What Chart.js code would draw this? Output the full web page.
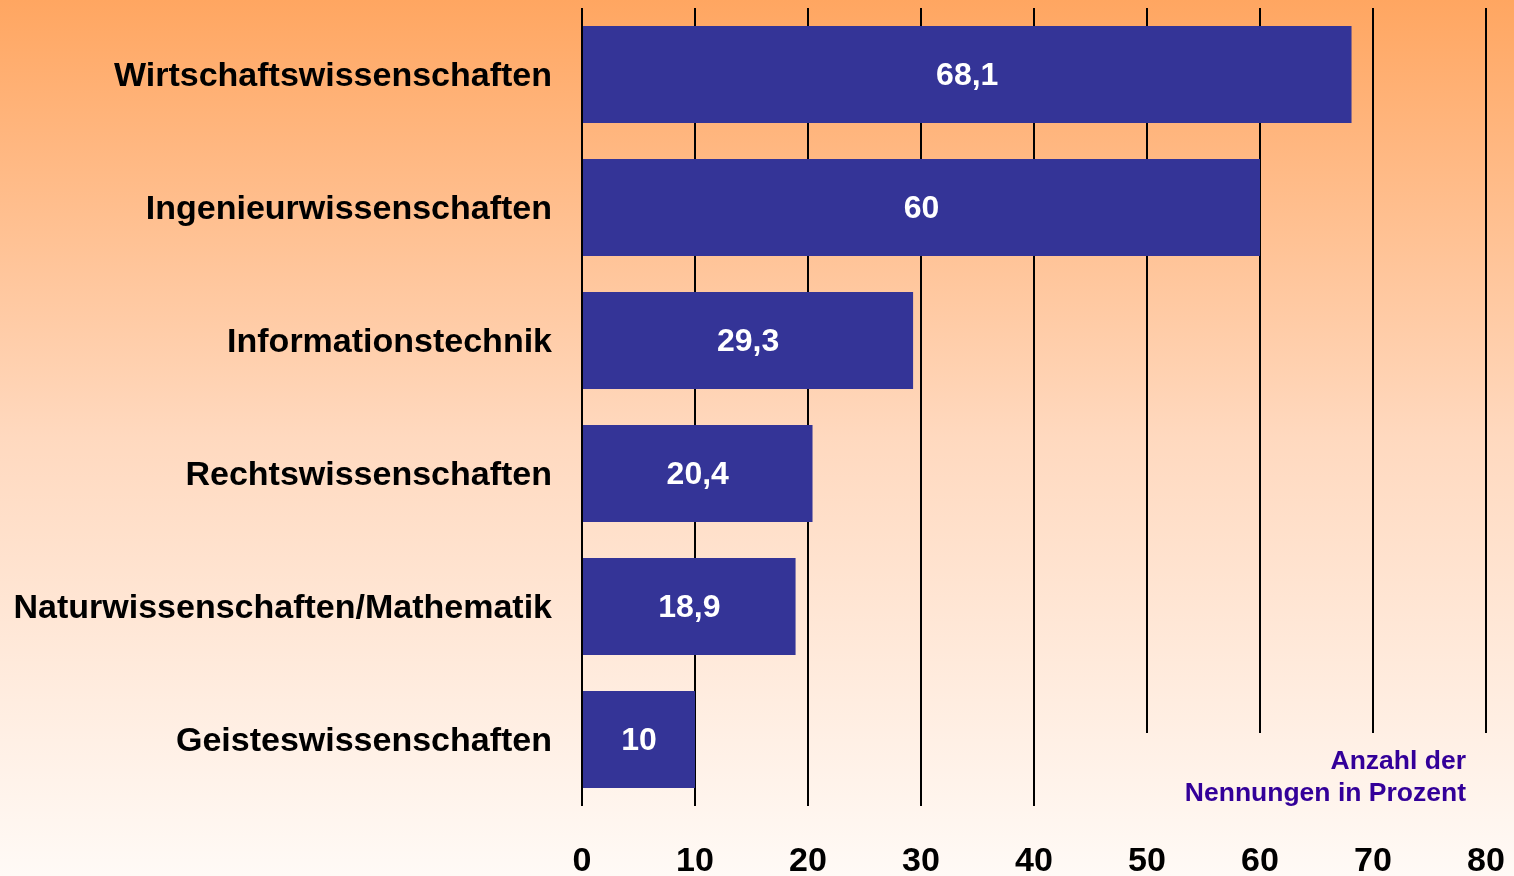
<!DOCTYPE html>
<html>
<head>
<meta charset="utf-8">
<script src="https://cdn.jsdelivr.net/npm/chart.js@4/dist/chart.umd.min.js"></script>
<style>
html,body{margin:0;padding:0;}
body{width:1514px;height:876px;overflow:hidden;}
#wrap{position:relative;width:1514px;height:876px;}
</style>
</head>
<body>
<div id="wrap"><canvas id="c" width="1514" height="876"></canvas></div>
<script>
const categories = ["Wirtschaftswissenschaften","Ingenieurwissenschaften","Informationstechnik","Rechtswissenschaften","Naturwissenschaften/Mathematik","Geisteswissenschaften"];
const values = [68.1, 60, 29.3, 20.4, 18.9, 10];
const valueLabels = ["68,1","60","29,3","20,4","18,9","10"];
const axisNote = ["Anzahl der","Nennungen in Prozent"];

const FONT = "'Liberation Sans', Arial, sans-serif";

function bgGradient(ctx, h){
  const g = ctx.createLinearGradient(0,0,0,h);
  g.addColorStop(0,'#FFA661');
  g.addColorStop(0.5,'#FFD9BF');
  g.addColorStop(1,'#FFFAF6');
  return g;
}

const bgPlugin = {
  id:'bg',
  beforeDraw(chart){
    const ctx = chart.ctx;
    ctx.save();
    ctx.fillStyle = bgGradient(ctx, chart.height);
    ctx.fillRect(0,0,chart.width,chart.height);
    ctx.restore();
  }
};

const overlayPlugin = {
  id:'overlay',
  afterDatasetsDraw(chart){
    const ctx = chart.ctx;
    const meta = chart.getDatasetMeta(0);
    const ca = chart.chartArea;
    const xs = chart.scales.x;
    ctx.save();
    ctx.fillStyle = bgGradient(ctx, chart.height);
    const x0 = xs.getPixelForValue(45);
    ctx.fillRect(x0, ca.bottom - 73, chart.width - x0, 80);
    ctx.restore();
    ctx.save();
    ctx.fillStyle = '#ffffff';
    ctx.font = "bold 32px " + FONT;
    ctx.textAlign = 'center';
    ctx.textBaseline = 'middle';
    meta.data.forEach((bar, i) => {
      const cx = (bar.base + bar.x) / 2;
      ctx.fillText(valueLabels[i], cx, bar.y + 1.5);
    });
    ctx.restore();
    ctx.save();
    ctx.fillStyle = '#330099';
    ctx.font = "bold 26.5px " + FONT;
    ctx.textAlign = 'right';
    ctx.textBaseline = 'middle';
    ctx.fillText(axisNote[0], 1466, 762);
    ctx.fillText(axisNote[1], 1466, 794);
    ctx.restore();
  }
};

new Chart(document.getElementById('c'), {
  type:'bar',
  data:{
    labels: categories,
    datasets:[{
      data: values,
      backgroundColor:'#343497',
      borderWidth:0,
      barPercentage:0.73,
      categoryPercentage:1
    }]
  },
  options:{
    indexAxis:'y',
    responsive:false,
    animation:false,
    devicePixelRatio:1,
    layout:{padding:{top:8,right:28,left:0,bottom:0}},
    plugins:{legend:{display:false},tooltip:{enabled:false}},
    scales:{
      x:{
        min:0,max:80,
        ticks:{stepSize:10,color:'#000',font:{family:FONT,size:34,weight:'bold'},padding:35,maxRotation:0},
        grid:{color:'#000',lineWidth:2,drawTicks:false},
        border:{display:false},
        afterFit(s){ s.height = 70; s.paddingLeft = 0; s.paddingRight = 0; s.paddingTop = 0; s.paddingBottom = 0; }
      },
      y:{
        ticks:{color:'#000',font:{family:FONT,size:34,weight:'bold'},padding:30,labelOffset:2},
        grid:{display:false,drawTicks:false},
        border:{display:false},
        afterFit(s){ s.width = 582; s.paddingTop = 0; s.paddingBottom = 0; s.paddingLeft = 0; s.paddingRight = 0; }
      }
    }
  },
  plugins:[bgPlugin, overlayPlugin]
});
</script>
</body>
</html>
